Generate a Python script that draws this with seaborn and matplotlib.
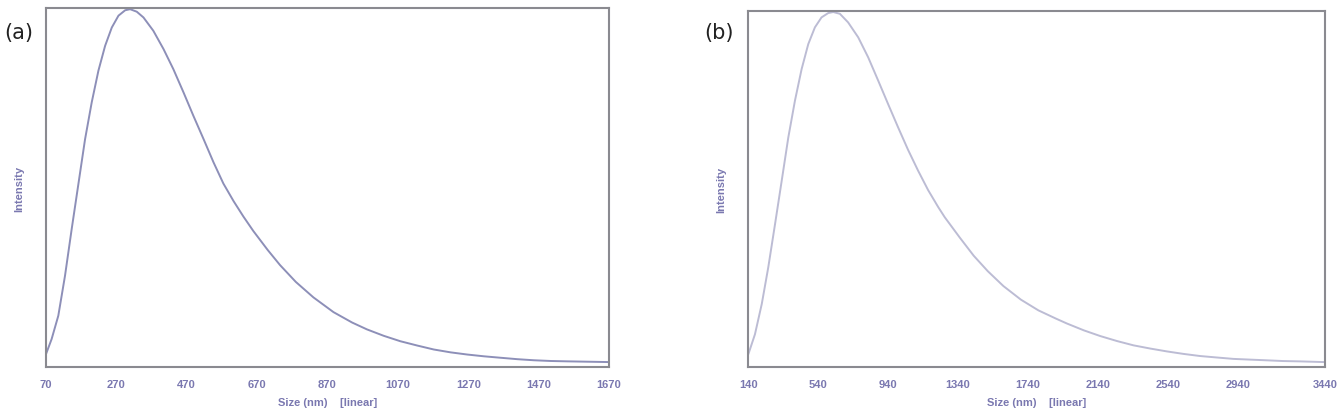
import matplotlib
matplotlib.use("Agg")
import matplotlib.pyplot as plt
import seaborn as sns
import pandas as pd

# Panel (a): size distribution
size_a = [70, 86, 105, 124, 143, 162, 181, 200, 219, 238, 257, 276, 295, 309,
          328, 347, 375, 404, 432, 461, 489, 518, 546, 574, 603, 631, 659, 700,
          735, 780, 830, 887, 940, 982, 1030, 1077, 1125, 1172, 1220, 1267, 1315,
          1362, 1410, 1457, 1505, 1552, 1610, 1670]
intensity_a = [0.037, 0.079, 0.144, 0.255, 0.385, 0.510, 0.635, 0.738, 0.826, 0.895,
               0.946, 0.979, 0.994, 0.997, 0.990, 0.974, 0.937, 0.886, 0.830, 0.765,
               0.700, 0.635, 0.571, 0.512, 0.463, 0.420, 0.380, 0.327, 0.285, 0.238,
               0.195, 0.154, 0.125, 0.106, 0.088, 0.073, 0.061, 0.050, 0.042, 0.036,
               0.031, 0.027, 0.023, 0.020, 0.018, 0.017, 0.016, 0.015]
ticks_a = [70, 270, 470, 670, 870, 1070, 1270, 1470, 1670]

# Panel (b)
size_b = [140, 178, 217, 254, 293, 331, 369, 407, 445, 483, 521, 559, 597, 626,
          664, 711, 769, 826, 883, 940, 997, 1054, 1111, 1169, 1226, 1264, 1350,
          1430, 1510, 1600, 1700, 1800, 1900, 1964, 2060, 2154, 2250, 2344, 2440,
          2535, 2630, 2726, 2820, 2916, 3010, 3107, 3200, 3300, 3440]
intensity_b = [0.037, 0.093, 0.178, 0.280, 0.402, 0.523, 0.645, 0.748, 0.836, 0.906,
               0.953, 0.981, 0.993, 0.996, 0.991, 0.967, 0.925, 0.869, 0.804, 0.738,
               0.673, 0.610, 0.552, 0.497, 0.450, 0.421, 0.364, 0.313, 0.270, 0.228,
               0.190, 0.160, 0.137, 0.123, 0.104, 0.088, 0.074, 0.062, 0.053, 0.045,
               0.038, 0.032, 0.028, 0.024, 0.022, 0.020, 0.018, 0.017, 0.015]
ticks_b = [140, 540, 940, 1340, 1740, 2140, 2540, 2940, 3440]

sns.set_style("white")
plt.rcParams['font.family'] = ['Liberation Sans', 'DejaVu Sans']

label_color = '#7a78b0'
spine_color = '#8a8a90'

fig = plt.figure(figsize=(13.37, 4.14), dpi=100)
ax_a = fig.add_axes([0.0344, 0.110, 0.4211, 0.868])
ax_b = fig.add_axes([0.5597, 0.110, 0.4313, 0.862])

panels = [
    (ax_a, size_a, intensity_a, ticks_a, '#8d8fb8', '(a)', 0.003),
    (ax_b, size_b, intensity_b, ticks_b, '#bcbcd4', '(b)', 0.527),
]

for ax, xs, ys, ticks, col, tag, tag_x in panels:
    df = pd.DataFrame({'Size': xs, 'Intensity': ys})
    sns.lineplot(data=df, x='Size', y='Intensity', ax=ax, color=col, linewidth=1.4)
    ax.set_xlim(ticks[0], ticks[-1])
    ax.set_ylim(0, 1.0)
    ax.set_xticks(ticks)
    ax.set_xticklabels([str(t) for t in ticks], fontsize=8, fontweight='bold',
                       color=label_color)
    ax.set_yticks([])
    ax.tick_params(axis='x', direction='in', length=5, width=1, color=spine_color, pad=8)
    ax.set_xlabel('Size (nm)    [linear]', fontsize=8, fontweight='bold',
                  color=label_color, labelpad=6)
    ax.set_ylabel('Intensity', fontsize=8, fontweight='bold', color=label_color,
                  labelpad=16)
    for s in ax.spines.values():
        s.set_color(spine_color)
        s.set_linewidth(1.5)
    fig.text(tag_x, 0.905, tag, fontsize=15, color='#222222', family='DejaVu Sans')

fig.savefig('out.png', dpi=100)
